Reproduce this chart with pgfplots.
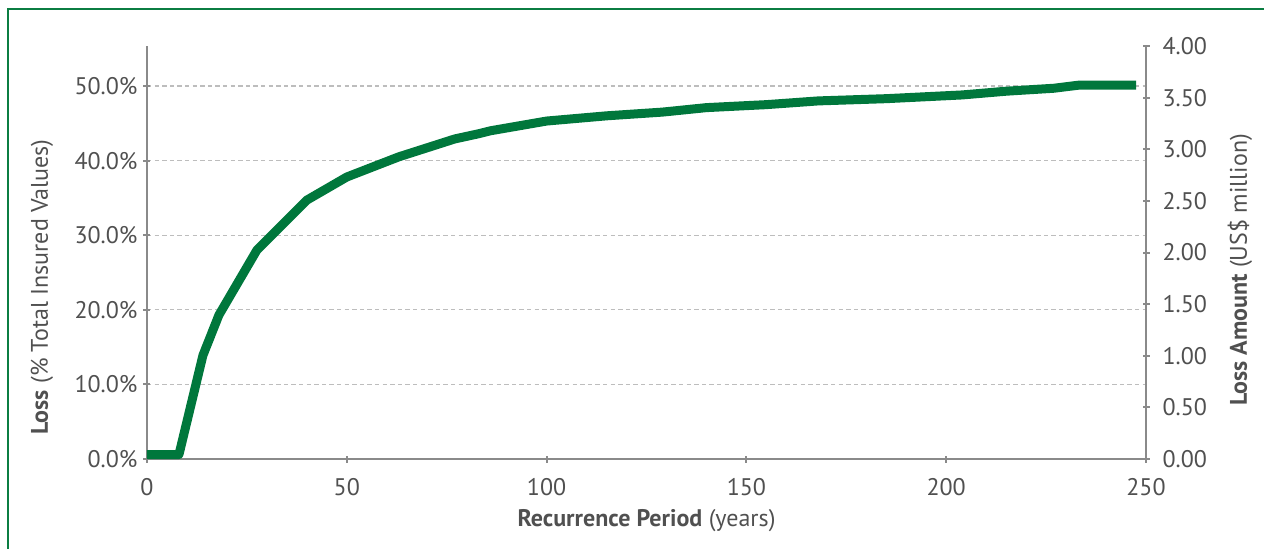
\documentclass[border=0pt]{standalone}
\usepackage{fontspec}
\setmainfont{PT Sans}
\usepackage{pgfplots}
\pgfplotsset{compat=1.18}
\definecolor{lgreen}{HTML}{00773C}
\definecolor{fgreen}{HTML}{0B7D42}
\definecolor{txtgray}{HTML}{505050}
\definecolor{axgray}{HTML}{8A8A8A}
\definecolor{gridgray}{HTML}{BDBDBD}
\begin{document}
\begin{tikzpicture}
\useasboundingbox (0,0) rectangle (632pt,274pt);
\draw[fgreen, line width=1.3pt] (4pt,-10pt) -- (4pt,269.5pt) -- (650pt,269.5pt);
\pgfplotsset{
  every axis/.append style={
    scale only axis, width=499.5pt, height=206.5pt,
    at={(73.5pt,44.5pt)}, anchor=south west,
    xmin=0, xmax=250,
    /pgf/number format/assume math mode=true,
    tick align=outside, major tick length=3.5pt,
    every tick/.style={axgray, line width=1pt},
    tick label style={font=\fontsize{12}{14}\selectfont, text=txtgray},
  }
}
\begin{axis}[
  axis x line=bottom, axis y line=left,
  axis line style={axgray, line width=1pt, -},
  ymin=0, ymax=55.36,
  xtick={0,50,100,150,200,250},
  ytick={0,10,20,30,40,50},
  xticklabel style={yshift=-4.5pt},
  yticklabel={\pgfmathprintnumber[fixed,fixed zerofill,precision=1]{\tick}\%},
  yticklabel style={xshift=0.5pt},
  ymajorgrids, major grid style={gridgray, line width=0.6pt, dash pattern=on 2.2pt off 1.6pt},
  clip=false,
]
\addplot[lgreen, line width=4.5pt, line cap=butt, line join=round] coordinates {
(0,0.6) (8,0.6) (14,13.9) (18,19.3) (27.5,28.0) (40,34.7) (50,37.8) (63,40.5)
(77,42.9) (83,43.6) (86,44.0) (100,45.3) (115,46.0) (129,46.5) (140,47.1)
(155,47.5) (168,48.0) (185,48.3) (204,48.8) (215,49.3) (227,49.7) (233,50.1) (247.5,50.1)
};
\end{axis}
\begin{axis}[
  axis x line=none, axis y line=right,
  axis line style={axgray, line width=1pt, -},
  ymin=0, ymax=4,
  ytick={0,0.5,1,1.5,2,2.5,3,3.5,4},
  yticklabel={\pgfmathprintnumber[fixed,fixed zerofill,precision=2]{\tick}},
  yticklabel style={xshift=3pt},
]
\end{axis}
\node[rotate=90, text=txtgray, font=\fontsize{12}{14}\selectfont] at (21pt,130.5pt) {\textbf{Loss} (\% Total Insured Values)};
\node[rotate=90, text=txtgray, font=\fontsize{12}{14}\selectfont] at (620pt,139pt) {\textbf{Loss Amount} (US\$ million)};
\node[text=txtgray, font=\fontsize{12}{14}\selectfont] at (323.25pt,13.5pt) {\textbf{Recurrence Period} (years)};
\end{tikzpicture}
\end{document}
